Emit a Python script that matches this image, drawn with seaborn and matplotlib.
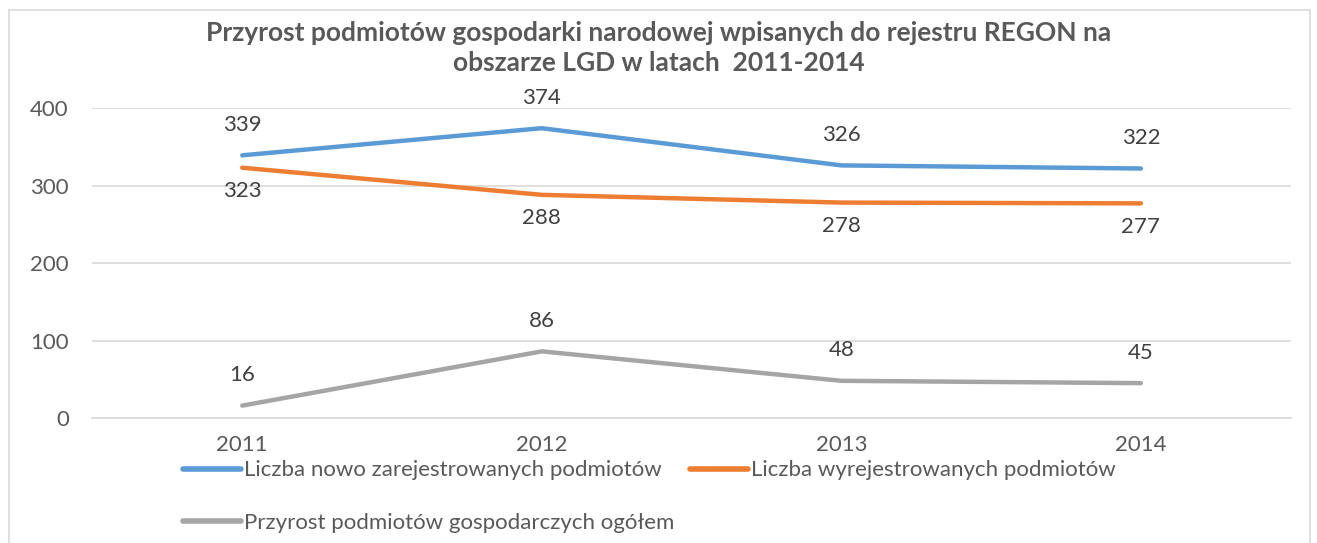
import pandas as pd
import seaborn as sns
import matplotlib.pyplot as plt
from matplotlib.patches import Rectangle

# dane z wykresu
years = ["2011", "2012", "2013", "2014"]
nowe = [339, 374, 326, 322]
wyrejestrowane = [323, 288, 278, 277]
przyrost = [16, 86, 48, 45]

series_names = [
    "Liczba nowo zarejestrowanych podmiotów",
    "Liczba wyrejestrowanych podmiotów",
    "Przyrost podmiotów gospodarczych ogółem",
]
colors = ["#5B9BD5", "#ED7D31", "#A5A5A5"]

df = pd.DataFrame({
    "rok": years * 3,
    "wartosc": nowe + wyrejestrowane + przyrost,
    "seria": [s for s in series_names for _ in years],
})

sns.set_style("white")
plt.rcParams["font.family"] = ["Lato", "DejaVu Sans"]
text_color = "#595959"

fig = plt.figure(figsize=(13.17, 5.43), dpi=100)
ax = fig.add_axes([0.0702, 0.2302, 0.9098, 0.5708])

sns.lineplot(data=df, x="rok", y="wartosc", hue="seria", palette=colors,
             linewidth=3.2, solid_capstyle="round", ax=ax, legend=False)

# etykiety danych: nad niebieską i szarą, pod pomarańczową
offsets = [22, -17, 22]
for vals, dy in zip([nowe, wyrejestrowane, przyrost], offsets):
    for i, v in enumerate(vals):
        ax.annotate(str(v), (i, v), xytext=(0, dy), textcoords="offset points",
                    ha="center", va="center", fontsize=16, color="#404040")

ax.set_xlim(-0.5, 3.5)
ax.set_ylim(0, 400)
ax.set_yticks([0, 100, 200, 300, 400])
ax.yaxis.grid(True, color="#D9D9D9", linewidth=1.2)
ax.set_axisbelow(True)
for sp in ax.spines.values():
    sp.set_visible(False)
ax.spines["bottom"].set_visible(True)
ax.spines["bottom"].set_color("#D9D9D9")
ax.spines["bottom"].set_linewidth(1.2)
ax.tick_params(axis="both", length=0, labelsize=16, labelcolor=text_color)
ax.tick_params(axis="y", pad=17)
ax.tick_params(axis="x", pad=12)
ax.set_xlabel("")
ax.set_ylabel("")

fig.suptitle("Przyrost podmiotów gospodarki narodowej wpisanych do rejestru REGON na\n"
             "obszarze LGD w latach  2011-2014",
             x=0.5, y=0.962, va="top", fontsize=19, fontweight="bold", color=text_color,
             linespacing=1.3)

# kolejność uchwytów tak, by wiersz 1 miał dwie serie, a wiersz 2 trzecią
handles = [plt.Line2D([], [], color=c, linewidth=4, solid_capstyle="round")
           for c in colors]
order = [0, 2, 1]
fig.legend([handles[i] for i in order], [series_names[i] for i in order],
           loc="upper left", bbox_to_anchor=(0.139, 0.152),
           ncol=2, frameon=False, fontsize=16, labelcolor=text_color,
           handlelength=2.6, handletextpad=0.15, columnspacing=0.7,
           labelspacing=1.45, borderaxespad=0, borderpad=0)

# ramka wykresu
fig.patches.append(Rectangle((0.007, -0.05), 0.988, 1.032, transform=fig.transFigure,
                             fill=False, edgecolor="#D9D9D9", linewidth=1.2))

fig.savefig("out.png", dpi=100)
